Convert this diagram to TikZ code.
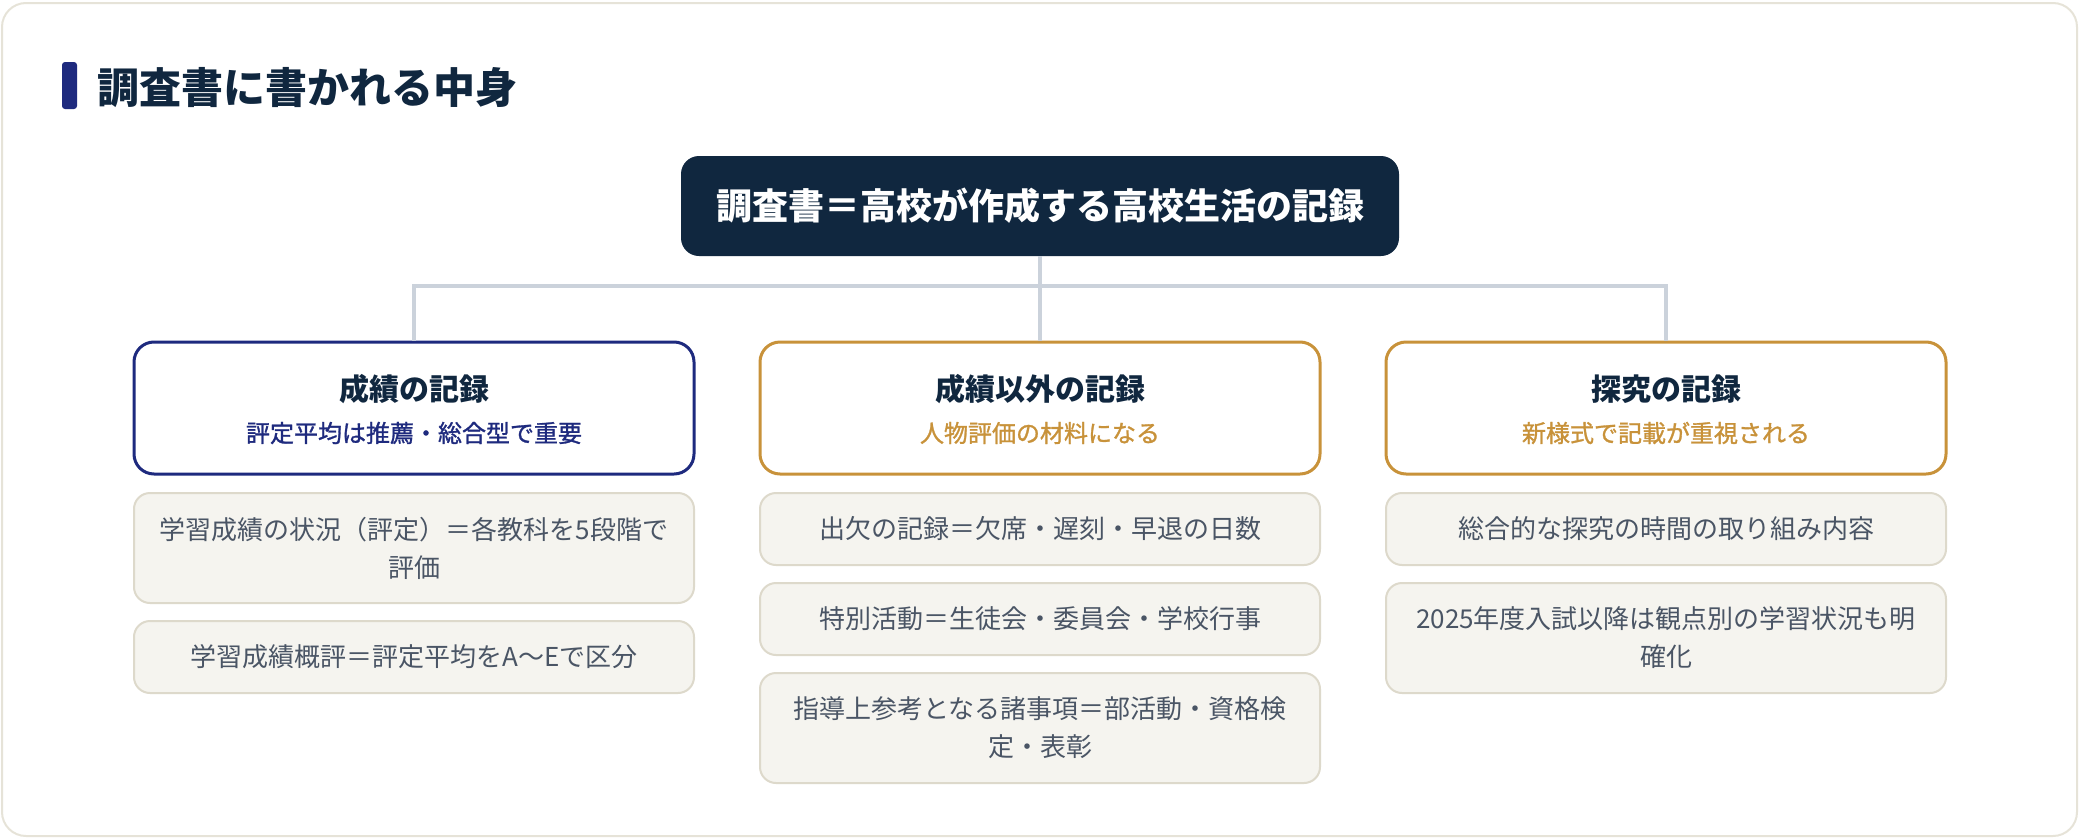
\documentclass[tikz,border=0pt]{standalone}
\usepackage{fontspec}
\setmainfont{Noto Sans CJK JP}
\newfontfamily\jpmed[FakeBold=1.2]{Noto Sans CJK JP}
\definecolor{framec}{HTML}{E6E3D8}
\definecolor{navy}{HTML}{10273F}
\definecolor{indigo}{HTML}{1E2A7E}
\definecolor{gold}{HTML}{C8923A}
\definecolor{connc}{HTML}{CBD2DB}
\definecolor{itemfill}{HTML}{F5F4EF}
\definecolor{itemdraw}{HTML}{DDD9CB}
\definecolor{itemtext}{HTML}{4A5565}
\begin{document}
\begin{tikzpicture}[x=1pt,y=-1pt,
  topbox/.style={fill=navy,text=white,rounded corners=18pt,minimum width=718pt,minimum height=100pt,inner sep=0pt,font=\fontsize{36}{42}\selectfont\bfseries},
  catbox/.style={draw=#1,line width=3pt,fill=white,rounded corners=20pt,minimum width=560pt,minimum height=132pt,inner sep=0pt},
  cattitle/.style={text=navy,inner sep=0pt,font=\fontsize{30}{36}\selectfont\bfseries},
  catsub/.style={text=#1,inner sep=0pt,font=\fontsize{24}{30}\selectfont\jpmed},
  itembox/.style={draw=itemdraw,line width=2pt,fill=itemfill,rounded corners=16pt,minimum width=560pt,minimum height=#1,inner sep=0pt,align=center,text=itemtext,font=\fontsize{26}{38}\selectfont},
  conn/.style={draw=connc,line width=4pt}
]
\useasboundingbox (0,0) rectangle (2080,838);
\draw[draw=framec,line width=2pt,fill=white,rounded corners=24pt] (2,3) rectangle (2077,836);
\fill[indigo,rounded corners=3pt] (62,62) rectangle (77,109);
\node[anchor=west,inner sep=0pt,text=navy,font=\fontsize{42}{48}\selectfont\bfseries] (title) at (97,88) {調査書に書かれる中身};
\node[topbox] (top) at (1040,206) {調査書＝高校が作成する高校生活の記録};
\coordinate (jn) at (1040,286);
\node[catbox=indigo] (c1) at (414,408) {};
\node[catbox=gold] (c2) at (1040,408) {};
\node[catbox=gold] (c3) at (1666,408) {};
\draw[conn] (top.south) -- (jn);
\draw[conn] (c1.north) -- (c1.north |- jn) -- (c3.north |- jn) -- (c3.north);
\draw[conn] (jn) -- (c2.north);
\node[cattitle] (t1) at (414,389) {成績の記録};
\node[catsub=indigo] (s1) at (414,433) {評定平均は推薦・総合型で重要};
\node[cattitle] (t2) at (1040,389) {成績以外の記録};
\node[catsub=gold] (s2) at (1040,433) {人物評価の材料になる};
\node[cattitle] (t3) at (1666,389) {探究の記録};
\node[catsub=gold] (s3) at (1666,433) {新様式で記載が重視される};
\node[itembox=110pt] (a1) at (414,548) {学習成績の状況（評定）＝各教科を5段階で\\評価};
\node[itembox=72pt] (a2) at (414,657) {学習成績概評＝評定平均をA〜Eで区分};
\node[itembox=72pt] (b1) at (1040,529) {出欠の記録＝欠席・遅刻・早退の日数};
\node[itembox=72pt] (b2) at (1040,619) {特別活動＝生徒会・委員会・学校行事};
\node[itembox=110pt] (b3) at (1040,728) {指導上参考となる諸事項＝部活動・資格検\\定・表彰};
\node[itembox=72pt] (d1) at (1666,529) {総合的な探究の時間の取り組み内容};
\node[itembox=110pt] (d2) at (1666,638) {2025年度入試以降は観点別の学習状況も明\\確化};
\end{tikzpicture}
\end{document}
